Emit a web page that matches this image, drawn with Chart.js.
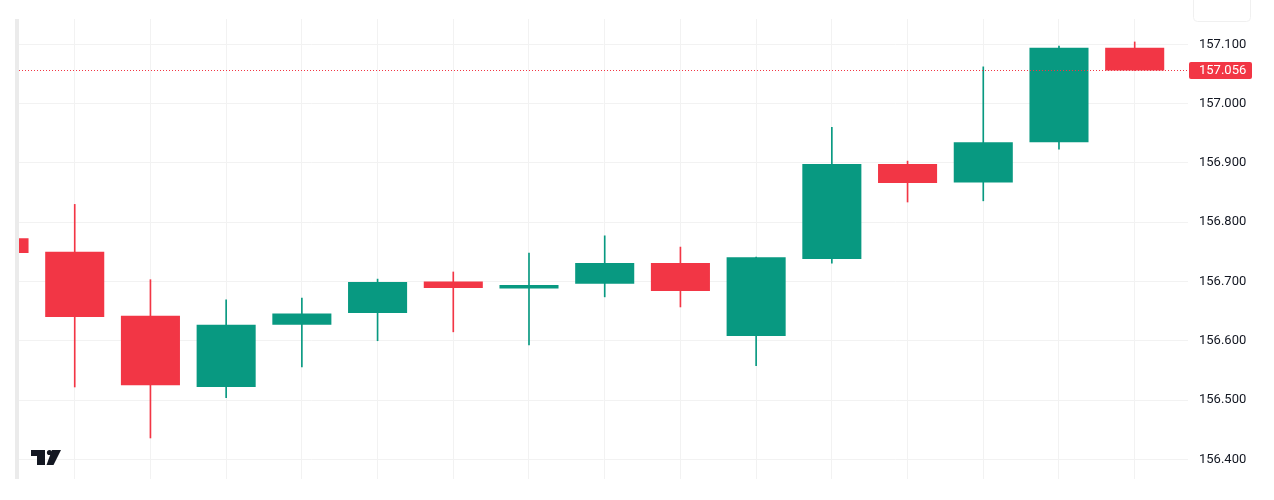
<!DOCTYPE html>
<html>
<head>
<meta charset="utf-8">
<script src="https://cdn.jsdelivr.net/npm/chart.js@4.4.1/dist/chart.umd.min.js"></script>
<style>
  html, body { margin: 0; padding: 0; background: #ffffff; }
  #wrap { width: 1274px; height: 500px; position: relative; }
</style>
</head>
<body>
<div id="wrap"><canvas id="priceChart"></canvas></div>
<script>
// candle data (index 0 is the cut-off candle at the left edge)
const candleIndex = [0, 1, 2, 3, 4, 5, 6, 7, 8, 9, 10, 11, 12, 13, 14, 15];
const opens  = [156.773, 156.750, 156.642, 156.522, 156.627, 156.647, 156.700, 156.688, 156.696, 156.731, 156.608, 156.738, 156.898, 156.867, 156.935, 157.094];
const highs  = [156.790, 156.830, 156.703, 156.669, 156.672, 156.704, 156.716, 156.748, 156.777, 156.758, 156.741, 156.960, 156.903, 157.062, 157.097, 157.104];
const lows   = [156.740, 156.522, 156.436, 156.504, 156.556, 156.600, 156.615, 156.593, 156.674, 156.657, 156.558, 156.731, 156.834, 156.836, 156.923, 157.056];
const closes = [156.748, 156.640, 156.525, 156.627, 156.646, 156.699, 156.689, 156.694, 156.731, 156.684, 156.741, 156.898, 156.866, 156.935, 157.094, 157.056];
const priceTicks = [156.4, 156.5, 156.6, 156.7, 156.8, 156.9, 157.0, 157.1];
const lastPrice = 157.056;

const UP = '#089981';
const DOWN = '#f23645';
const GRID = '#f2f2f2';

document.addEventListener('DOMContentLoaded', () => {
    initChart();
});

function candleColors() {
    return candleIndex.map((_, i) => closes[i] >= opens[i] ? UP : DOWN);
}

const overlayPlugin = {
    id: 'overlay',
    afterDatasetsDraw(chart) {
        const ctx = chart.ctx;
        const area = chart.chartArea;
        const y = chart.scales.y.getPixelForValue(lastPrice);
        ctx.save();
        // left edge bar
        ctx.fillStyle = '#ebebeb';
        ctx.fillRect(area.left - 4, area.top, 4, area.bottom - area.top);
        // last price dotted line
        ctx.strokeStyle = DOWN;
        ctx.lineWidth = 1;
        ctx.setLineDash([1, 2]);
        ctx.beginPath();
        ctx.moveTo(area.left, Math.round(y) + 0.5);
        ctx.lineTo(area.right, Math.round(y) + 0.5);
        ctx.stroke();
        ctx.setLineDash([]);
        ctx.restore();
    },
    afterDraw(chart) {
        const ctx = chart.ctx;
        const area = chart.chartArea;
        const y = chart.scales.y.getPixelForValue(lastPrice);
        ctx.save();
        // price label
        ctx.fillStyle = DOWN;
        roundRect(ctx, area.right + 1, Math.round(y) - 8, 63, 17, 2);
        ctx.fill();
        ctx.fillStyle = '#ffffff';
        ctx.font = '13px Roboto, "Liberation Sans", sans-serif';
        ctx.textBaseline = 'middle';
        ctx.fillText(lastPrice.toFixed(3), area.right + 11, Math.round(y) + 1);
        // faint box top right
        ctx.strokeStyle = '#f0f0f0';
        roundRect(ctx, area.right + 5.5, -4.5, 57, 26, 4);
        ctx.stroke();
        // logo
        ctx.fillStyle = '#131722';
        ctx.fillRect(31, 450, 14, 6);
        ctx.fillRect(37, 450, 8, 15);
        ctx.beginPath();
        ctx.arc(49.5, 452.5, 2.6, 0, Math.PI * 2);
        ctx.fill();
        ctx.beginPath();
        ctx.moveTo(52, 450);
        ctx.lineTo(61, 450);
        ctx.lineTo(53.5, 465);
        ctx.lineTo(46.5, 465);
        ctx.closePath();
        ctx.fill();
        ctx.restore();
    }
};

function roundRect(ctx, x, y, w, h, r) {
    ctx.beginPath();
    ctx.moveTo(x + r, y);
    ctx.lineTo(x + w - r, y);
    ctx.quadraticCurveTo(x + w, y, x + w, y + r);
    ctx.lineTo(x + w, y + h - r);
    ctx.quadraticCurveTo(x + w, y + h, x + w - r, y + h);
    ctx.lineTo(x + r, y + h);
    ctx.quadraticCurveTo(x, y + h, x, y + h - r);
    ctx.lineTo(x, y + r);
    ctx.quadraticCurveTo(x, y, x + r, y);
    ctx.closePath();
}

function initChart() {
    const chart = document.getElementById('priceChart')?.getContext('2d');
    if (!chart) return;

    new Chart(chart, {
        type: 'bar',
        data: getChartData(),
        options: getChartOptions(),
        plugins: [overlayPlugin]
    });
}

function getChartData() {
    const colors = candleColors();
    return {
        datasets: [{
            label: 'Body',
            data: candleIndex.map((x, i) => ({ x: x, y: [opens[i], closes[i]] })),
            backgroundColor: colors,
            borderWidth: 0,
            categoryPercentage: 1,
            barPercentage: 0.78,
            grouped: false
        }, {
            label: 'Wick',
            data: candleIndex.map((x, i) => ({ x: x, y: [lows[i], highs[i]] })),
            backgroundColor: colors,
            borderWidth: 0,
            barThickness: 1,
            grouped: false
        }]
    };
}

function getChartOptions() {
    return {
        responsive: true,
        maintainAspectRatio: false,
        animation: false,
        layout: {
            padding: { left: 19, top: 19, bottom: 21, right: 0 }
        },
        plugins: {
            legend: { display: false },
            tooltip: { enabled: false }
        },
        scales: {
            x: {
                type: 'linear',
                min: 0.264,
                max: 15.704,
                offset: false,
                afterBuildTicks: (scale) => {
                    scale.ticks = candleIndex.filter(v => v > 0).map(v => ({ value: v }));
                },
                ticks: { display: false },
                grid: { color: GRID, drawTicks: false, offset: false },
                border: { display: false }
            },
            y: {
                position: 'right',
                min: 156.3668,
                max: 157.1427,
                afterBuildTicks: (scale) => {
                    scale.ticks = priceTicks.map(v => ({ value: v }));
                },
                afterFit: (scale) => {
                    scale.width = 86;
                },
                ticks: {
                    padding: 11,
                    color: '#131722',
                    font: { size: 13, family: 'Roboto, "Liberation Sans", sans-serif' },
                    callback: (v) => Number(v).toFixed(3)
                },
                grid: { color: GRID, drawTicks: false },
                border: { display: false }
            }
        }
    };
}
</script>
</body>
</html>
